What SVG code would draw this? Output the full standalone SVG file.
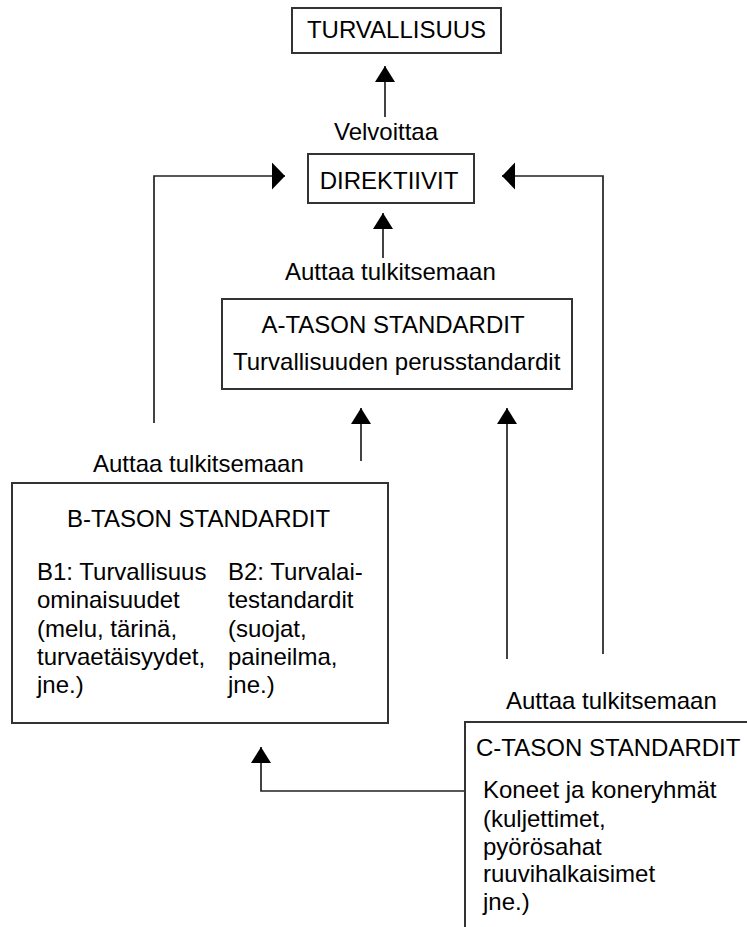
<svg xmlns="http://www.w3.org/2000/svg" width="747" height="927" viewBox="0 0 747 927">
<style>
.t{font-family:"Liberation Sans",Arial,sans-serif;font-size:24px;fill:#000}
.box{fill:#fff;stroke:#333;stroke-width:2}
.c{fill:none;stroke:#222;stroke-width:1.7}
</style>
<defs>
<marker id="av" markerUnits="userSpaceOnUse" markerWidth="17" markerHeight="21" refX="16" refY="10" orient="auto" viewBox="0 0 17 21">
<path d="M0,0 L16,10 L0,20 z" fill="#000"/>
</marker>
<marker id="ah" markerUnits="userSpaceOnUse" markerWidth="14" markerHeight="28" refX="13" refY="13.5" orient="auto" viewBox="0 0 14 28">
<path d="M0,0 L13,13.5 L0,27 z" fill="#000"/>
</marker>
</defs>
<rect width="747" height="927" fill="#fff"/>
<g id="connectors">
<line class="c" x1="385" y1="117" x2="385" y2="66" marker-end="url(#av)"/>
<line class="c" x1="383" y1="258" x2="383" y2="213" marker-end="url(#av)"/>
<polyline class="c" points="154,423 154,176 285,176" marker-end="url(#ah)"/>
<polyline class="c" points="603,654 603,176 502,176" marker-end="url(#ah)"/>
<line class="c" x1="361" y1="461" x2="361" y2="408" marker-end="url(#av)"/>
<line class="c" x1="507" y1="659" x2="507" y2="408" marker-end="url(#av)"/>
<polyline class="c" points="465,791 261,791 261,747" marker-end="url(#av)"/>
<text class="t" x="386" y="140" text-anchor="middle">Velvoittaa</text>
<text class="t" x="285" y="280">Auttaa tulkitsemaan</text>
<text class="t" x="93" y="472">Auttaa tulkitsemaan</text>
<text class="t" x="506" y="709">Auttaa tulkitsemaan</text>
</g>
<g id="turvallisuus">
<rect class="box" x="292" y="8" width="209" height="45"/>
<text class="t" x="396.5" y="38" text-anchor="middle">TURVALLISUUS</text>
</g>
<g id="direktiivit">
<rect class="box" x="308" y="154" width="166" height="49"/>
<text class="t" x="389" y="189" text-anchor="middle">DIREKTIIVIT</text>
</g>
<g id="a-taso">
<rect class="box" x="222" y="299" width="350" height="90"/>
<text class="t" x="393" y="333" text-anchor="middle">A-TASON STANDARDIT</text>
<text class="t" x="233" y="370">Turvallisuuden perusstandardit</text>
</g>
<g id="b-taso">
<rect class="box" x="12" y="483" width="376" height="240"/>
<text class="t" x="67" y="527">B-TASON STANDARDIT</text>
<text class="t" x="37" y="580">B1: Turvallisuus</text>
<text class="t" x="37" y="608">ominaisuudet</text>
<text class="t" x="37" y="637">(melu, tärinä,</text>
<text class="t" x="37" y="665">turvaetäisyydet,</text>
<text class="t" x="37" y="693">jne.)</text>
<text class="t" x="228" y="580">B2: Turvalai-</text>
<text class="t" x="228" y="608">testandardit</text>
<text class="t" x="228" y="637">(suojat,</text>
<text class="t" x="228" y="665">paineilma,</text>
<text class="t" x="228" y="693">jne.)</text>
</g>
<g id="c-taso">
<rect class="box" x="465" y="722" width="300" height="230"/>
<text class="t" x="476" y="756">C-TASON STANDARDIT</text>
<text class="t" x="483" y="798">Koneet ja koneryhmät</text>
<text class="t" x="483" y="827">(kuljettimet,</text>
<text class="t" x="483" y="855">pyörösahat</text>
<text class="t" x="483" y="882">ruuvihalkaisimet</text>
<text class="t" x="483" y="910">jne.)</text>
</g>
</svg>
